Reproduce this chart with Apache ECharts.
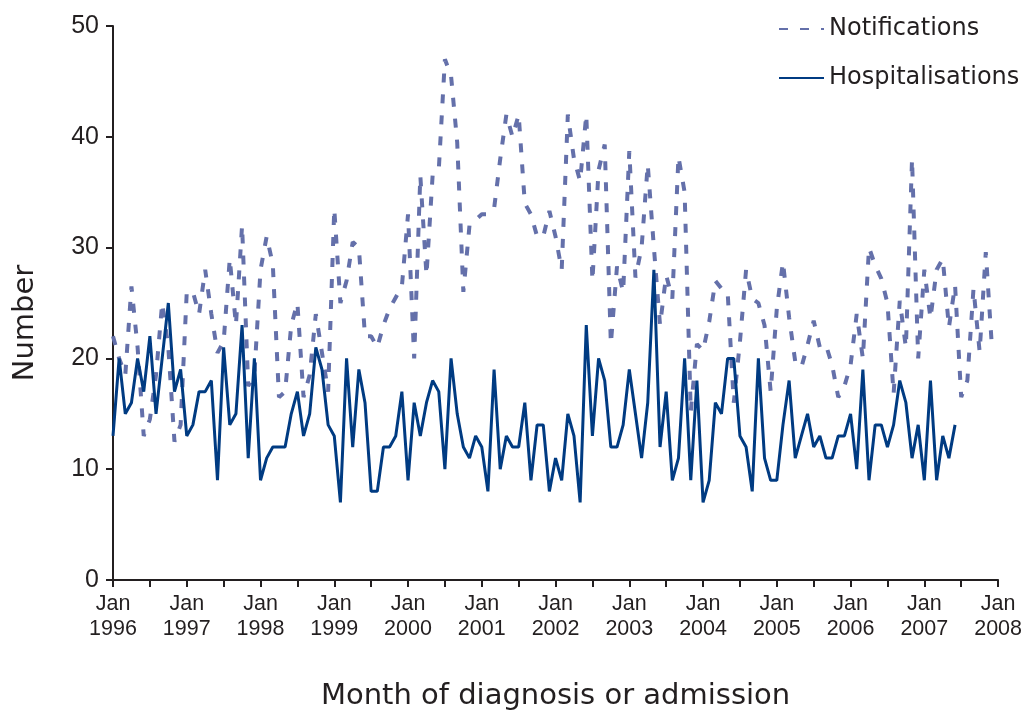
<!DOCTYPE html>
<html>
<head>
<meta charset="utf-8">
<script src="https://cdn.jsdelivr.net/npm/echarts@6/dist/echarts.min.js"></script>
<style>
html,body{margin:0;padding:0;background:#fff;}
#chart{width:1025px;height:716px;}
</style>
</head>
<body>
<div id="chart"></div>
<script>
// Monthly series starting Jan 1996 (index 0)
var startYear = 1996;
var yearTicks = ['1996','1997','1998','1999','2000','2001','2002','2003','2004','2005','2006','2007','2008'];
var notifications = [
  22, 20, 18.5, 26.5, 21, 13, 14.5, 18.5, 25, 21, 12.5, 14,
  26, 26, 24, 28, 24, 20.5, 21.5, 29, 23, 32, 17.5, 18.5,
  28, 31, 28.5, 16.5, 17, 23, 25, 16.5, 18.5, 24, 20.5, 17,
  33.5, 25, 27, 30.5, 30, 22, 22, 21, 23, 24.5, 25.5, 26.5,
  33, 20, 36.5, 27.5, 36.5, 37, 47, 45.5, 39.5, 26, 32, 32.5,
  33, 33, 33.5, 38, 42, 40, 42, 34, 33, 31, 31, 33.3,
  31, 28, 42, 38, 36, 42, 27, 37, 39.3, 21.3, 28.3, 26,
  38.7, 27.3, 30, 37.5, 30, 23, 27.5, 25.4, 38.2, 35, 15.2, 21.3,
  20.7, 23.3, 27, 26.3, 26, 16, 21.5, 28, 25.4, 25, 23, 17,
  24.5, 28.7, 23.7, 19.7, 19.2, 21.2, 23.4, 21, 21.2, 19.4, 16.5, 17.5,
  19.4, 24, 20, 30, 28.4, 27.2, 25, 16.8, 25.2, 21, 38, 20,
  28, 23.6, 28, 29, 22.8, 26.6, 16.5, 18, 26.3, 20.6, 29.6, 21
];
var hospitalisations = [
  13, 20, 15, 16, 20, 17, 22, 15, 20, 25, 17, 19,
  13, 14, 17, 17, 18, 9, 21, 14, 15, 23, 11, 20,
  9, 11, 12, 12, 12, 15, 17, 13, 15, 21, 19, 14,
  13, 7, 20, 12, 19, 16, 8, 8, 12, 12, 13, 17,
  9, 16, 13, 16, 18, 17, 10, 20, 15, 12, 11, 13,
  12, 8, 19, 10, 13, 12, 12, 16, 9, 14, 14, 8,
  11, 9, 15, 13, 7, 23, 13, 20, 18, 12, 12, 14,
  19, 15, 11, 16, 28, 12, 17, 9, 11, 20, 9, 18,
  7, 9, 16, 15, 20, 20, 13, 12, 8, 20, 11, 9,
  9, 14, 18, 11, 13, 15, 12, 13, 11, 11, 13, 13,
  15, 10, 19, 9, 14, 14, 12, 14, 18, 16, 11, 14,
  9, 18, 9, 13, 11, 14
];

var textColor = '#231F20';
var chart = echarts.init(document.getElementById('chart'), null, {renderer: 'canvas'});
var option = {
  animation: false,
  backgroundColor: '#ffffff',
  grid: {left: 113, right: 25, top: 26, bottom: 134, containLabel: false},
  legend: {
    orient: 'vertical',
    left: 778,
    top: 17,
    padding: 0,
    itemWidth: 45,
    itemHeight: 14,
    itemGap: 25,
    itemStyle: {opacity: 0},
    textStyle: {fontFamily: 'DejaVu Sans', fontSize: 24, color: textColor},
    data: ['Notifications', 'Hospitalisations']
  },
  xAxis: {
    type: 'value',
    min: 0,
    max: 144,
    interval: 6,
    name: 'Month of diagnosis or admission',
    nameLocation: 'middle',
    nameGap: 102,
    nameTextStyle: {fontFamily: 'DejaVu Sans', fontSize: 29, color: textColor},
    axisLine: {lineStyle: {color: '#231F20', width: 2}},
    axisTick: {show: true, length: 7, inside: false, lineStyle: {color: '#231F20', width: 2}},
    splitLine: {show: false},
    axisLabel: {
      margin: 12,
      fontFamily: 'Liberation Sans',
      fontSize: 21.5,
      lineHeight: 25,
      color: textColor,
      showMinLabel: true,
      showMaxLabel: true,
      formatter: function (v) {
        if (v % 12 !== 0) return '';
        return 'Jan\n' + yearTicks[v / 12];
      }
    }
  },
  yAxis: {
    type: 'value',
    min: 0,
    max: 50,
    interval: 10,
    axisLine: {show: true, lineStyle: {color: '#231F20', width: 2}},
    axisTick: {show: true, length: 7, lineStyle: {color: '#231F20', width: 2}},
    splitLine: {show: false},
    axisLabel: {margin: 14, fontFamily: 'Liberation Sans', fontSize: 25, color: textColor}
  },
  graphic: [{
    type: 'text',
    x: 25,
    y: 323,
    rotation: Math.PI / 2,
    style: {
      text: 'Number',
      fill: textColor,
      font: '29px "DejaVu Sans"',
      textAlign: 'center',
      textVerticalAlign: 'middle'
    }
  }],
  series: [
    {
      name: 'Notifications',
      type: 'line',
      symbol: 'none',
      lineStyle: {color: '#6470AA', width: 4, type: [9, 12]},
      itemStyle: {color: '#6470AA'},
      data: notifications.map(function (v, i) { return [i, v]; }),
      z: 2
    },
    {
      name: 'Hospitalisations',
      type: 'line',
      symbol: 'none',
      lineStyle: {color: '#003B82', width: 3},
      itemStyle: {color: '#003B82'},
      data: hospitalisations.map(function (v, i) { return [i, v]; }),
      z: 3
    }
  ]
};
chart.setOption(option);
</script>
</body>
</html>
